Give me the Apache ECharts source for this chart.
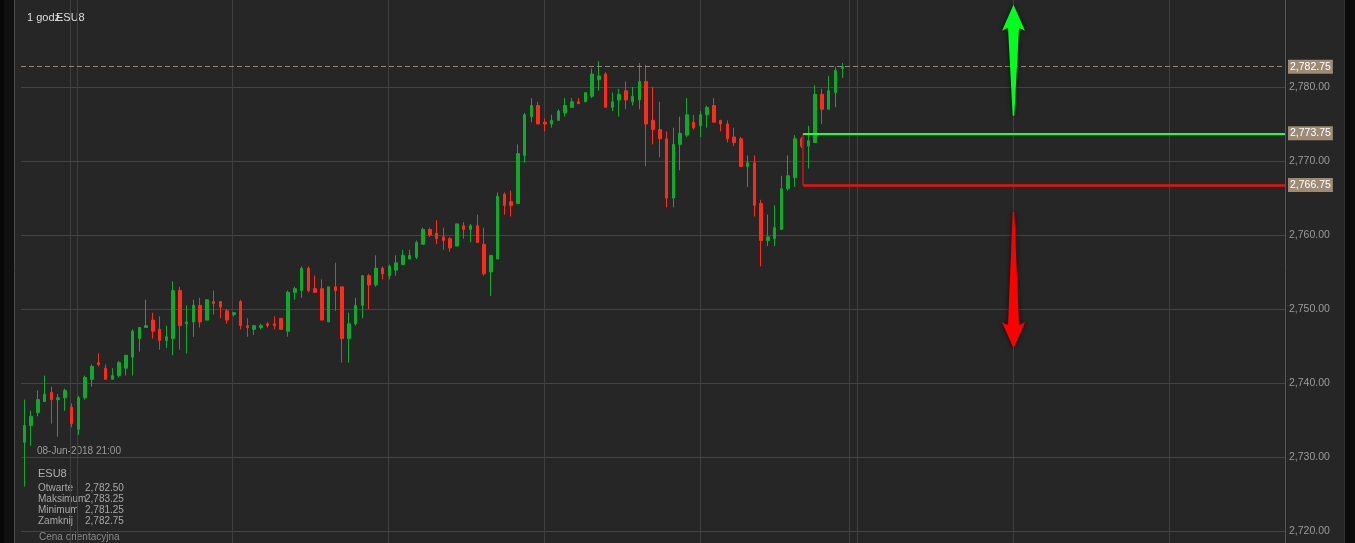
<!DOCTYPE html>
<html>
<head>
<meta charset="utf-8">
<script src="https://cdn.jsdelivr.net/npm/echarts@6/dist/echarts.min.js"></script>
<style>
html,body{margin:0;padding:0;background:#262626;}
#chart{width:1355px;height:543px;}
</style>
</head>
<body>
<div id="chart"></div>
<script>
// ---- data ----
const symbol = 'ESU8';
const period = '1 godz.';
const lastTime = '08-Jun-2018 21:00';
// [open, close, low, high] hourly candles
const ohlc = [
[2732.0,2734.25,2726.0,2737.75],[2734.25,2735.5,2731.5,2736.25],[2736.0,2737.75,2735.5,2739.0],
[2737.5,2738.5,2737.5,2741.0],[2738.75,2737.75,2734.5,2739.5],[2737.75,2738.0,2732.75,2738.5],
[2738.0,2739.0,2736.25,2739.25],[2736.75,2734.5,2734.0,2737.25],[2733.75,2738.0,2733.0,2738.25],
[2738.0,2740.75,2737.75,2741.0],[2740.5,2742.25,2739.5,2742.5],[2742.75,2742.5,2742.25,2744.0],
[2742.0,2740.5,2740.5,2742.5],[2740.5,2741.0,2740.5,2742.0],[2741.0,2742.75,2740.75,2743.0],
[2742.0,2743.75,2741.0,2743.75],[2743.5,2747.0,2741.0,2747.25],[2746.0,2747.5,2744.25,2747.5],
[2747.5,2747.75,2747.5,2751.25],[2748.5,2747.0,2746.0,2749.5],[2747.25,2745.75,2744.5,2749.0],
[2745.75,2746.25,2744.75,2747.75],[2746.0,2752.5,2743.75,2753.75],[2752.5,2747.75,2744.5,2753.0],
[2748.0,2748.25,2744.0,2750.5],[2748.25,2750.5,2746.25,2751.25],[2750.5,2748.25,2747.5,2751.5],
[2748.5,2751.25,2748.5,2751.25],[2751.0,2750.75,2749.25,2752.5],[2751.0,2750.25,2748.75,2751.0],
[2749.75,2748.5,2748.0,2750.0],[2749.25,2749.5,2749.0,2749.5],[2751.0,2747.75,2747.25,2751.25],
[2747.75,2747.5,2746.25,2748.75],[2747.25,2747.75,2746.5,2747.75],[2747.5,2747.75,2747.25,2748.0],
[2748.0,2747.75,2747.5,2748.25],[2748.0,2747.75,2747.25,2749.0],[2748.75,2747.25,2747.25,2748.75],
[2747.0,2752.25,2746.25,2752.5],[2752.25,2752.75,2751.25,2753.0],[2752.5,2755.5,2751.5,2755.75],
[2755.5,2752.5,2752.25,2755.75],[2752.75,2752.25,2752.25,2754.5],[2752.75,2748.5,2748.5,2754.0],
[2748.25,2753.0,2748.25,2753.0],[2753.0,2752.5,2749.75,2756.25],[2753.0,2746.0,2742.75,2753.0],
[2746.0,2748.0,2742.75,2749.5],[2748.0,2750.5,2747.75,2751.5],[2750.5,2754.5,2748.75,2754.5],
[2754.5,2753.25,2750.0,2754.75],[2753.25,2755.5,2753.0,2757.25],[2755.5,2754.75,2754.0,2755.75],
[2754.5,2755.75,2754.0,2756.0],[2755.25,2756.25,2754.5,2757.25],[2756.0,2757.25,2756.0,2758.0],
[2756.75,2757.25,2756.75,2758.0],[2757.0,2759.0,2756.75,2759.25],[2758.75,2760.75,2758.75,2761.0],
[2760.75,2760.0,2759.75,2761.0],[2760.25,2759.5,2758.75,2762.0],[2759.75,2759.25,2758.0,2761.0],
[2759.5,2758.25,2757.75,2759.75],[2758.5,2761.5,2758.5,2761.5],[2761.25,2760.75,2759.5,2761.75],
[2760.75,2761.25,2759.0,2761.5],[2761.25,2759.0,2759.0,2762.75],[2758.75,2754.75,2754.5,2761.0],
[2755.0,2757.25,2751.75,2757.25],[2756.75,2765.25,2756.75,2765.75],[2765.5,2764.0,2762.75,2765.75],
[2764.5,2764.0,2762.5,2766.0],[2764.25,2771.0,2764.25,2772.25],[2770.75,2776.25,2769.75,2776.5],
[2776.0,2777.5,2775.25,2778.5],[2777.5,2775.0,2775.0,2778.0],[2775.25,2775.0,2774.0,2775.75],
[2775.0,2775.5,2774.5,2776.25],[2775.5,2776.75,2775.5,2777.0],[2776.5,2777.5,2776.0,2778.5],
[2777.25,2778.0,2777.25,2778.5],[2778.0,2777.75,2777.75,2778.5],[2778.0,2779.25,2778.0,2779.25],
[2778.75,2781.75,2778.5,2782.5],[2781.0,2781.5,2779.5,2783.5],[2781.75,2777.25,2777.25,2782.0],
[2777.25,2778.0,2776.75,2779.25],[2778.25,2779.0,2776.0,2779.75],[2779.5,2778.25,2777.0,2780.75],
[2778.0,2778.75,2777.5,2780.0],[2778.25,2780.75,2777.0,2783.25],[2780.75,2775.0,2769.25,2783.0],
[2775.5,2774.25,2772.25,2780.0],[2774.25,2773.0,2770.5,2778.0],[2773.0,2765.0,2763.75,2774.0],
[2765.0,2772.25,2763.75,2774.5],[2772.25,2773.75,2768.75,2776.0],[2773.5,2776.25,2773.25,2778.5],
[2775.25,2774.5,2774.25,2776.25],[2774.75,2776.25,2773.25,2776.75],[2776.25,2777.25,2774.5,2777.5],
[2777.5,2775.25,2775.25,2778.5],[2775.5,2775.0,2774.0,2775.5],[2775.0,2773.0,2772.5,2775.5],
[2773.25,2772.5,2772.0,2774.5],[2773.0,2769.25,2769.25,2773.25],[2769.25,2769.75,2766.5,2770.75],
[2769.75,2764.0,2762.5,2770.75],[2764.25,2759.25,2755.75,2764.75],[2759.25,2759.75,2758.5,2762.75],
[2759.5,2761.0,2758.5,2764.0],[2760.75,2766.25,2760.75,2768.0],[2766.25,2768.0,2766.0,2770.75],
[2767.75,2773.0,2766.5,2773.5],[2773.0,2772.0,2771.75,2773.25],[2772.0,2772.75,2769.0,2774.75],
[2772.5,2779.0,2772.5,2780.25],[2779.0,2777.0,2775.0,2779.75],[2777.0,2779.5,2777.0,2781.5],
[2779.25,2782.25,2777.25,2782.75],[2782.5,2782.75,2781.25,2783.25]
];
const emptySlots = 65;              // empty future slots to the right
const priceTicks = [2720, 2730, 2740, 2750, 2760, 2770, 2780, 2790];
const lastPrice = 2782.75;
const levelUp = 2773.75;
const levelDown = 2766.75;
const levelStart = 115.7;           // slot where the level lines start
const timeGrid = [7.25, 8.29, 31.26, 54.34, 77.38, 100.46, 122.5, 123.69, 146.77, 169.85];
const arrowUp = [146.77, 2776.1, 2791.1];    // [slot, tail, tip]
const arrowDown = [146.77, 2763.1, 2744.7];
const infoRows = [['Otwarte','2,782.50'],['Maksimum','2,783.25'],['Minimum','2,781.25'],['Zamknij','2,782.75']];

// ---- chart ----
const slotCount = ohlc.length + emptySlots;
const categories = Array.from({length: slotCount}, (_, i) => String(i));
const fmt = v => Number(v).toFixed(2).replace(/\B(?=(\d{3})+(?!\d))/g, ',');
const FONT = '"Liberation Sans", Arial, sans-serif';
const GREEN = '#0faa2c', RED = '#ff2a1a';

const chart = echarts.init(document.getElementById('chart'), null, {renderer: 'canvas'});

function arrowItem(params, api) {
  const x = api.value(0);
  const p1 = api.coord([x, api.value(1)]);
  const p2 = api.coord([x, api.value(2)]);
  const up = p2[1] < p1[1];
  const dir = up ? -1 : 1;
  const cx = Math.round(p1[0]) + 0.5;
  const head = 26, hw = 11.5, sw = 5.5;
  const pts = [
    [cx, p2[1]],
    [cx + hw, p2[1] - dir * head],
    [cx + sw, p2[1] - dir * (head - 3)],
    [cx + 0.8, p1[1]],
    [cx - 0.8, p1[1]],
    [cx - sw, p2[1] - dir * (head - 3)],
    [cx - hw, p2[1] - dir * head]
  ];
  return {
    type: 'polygon',
    shape: {points: pts},
    style: {fill: up ? '#00ff1e' : '#ff0000', shadowBlur: 5, shadowColor: 'rgba(0,0,0,0.7)'}
  };
}

function vLine(color) {
  return (params, api) => {
    const x = Math.round(api.coord([api.value(0), api.value(1)])[0]) + 0.5;
    return {type: 'line', shape: {x1: x, y1: 0, x2: x, y2: api.getHeight()},
            style: {stroke: color, lineWidth: 1}};
  };
}

const levelLabel = v => ({
  show: true, position: 'end', distance: 3,
  formatter: fmt(v),
  color: '#ffffff', backgroundColor: '#9d8b75',
  padding: [2, 2, 1, 2], fontSize: 10.5, fontFamily: FONT
});

const option = {
  backgroundColor: '#262626',
  animation: false,
  grid: {left: 21, right: 70, top: 13, bottom: 12, containLabel: false},
  xAxis: [
    {type: 'category', data: categories, boundaryGap: true, show: false},
    {type: 'value', min: 0, max: slotCount, show: false, gridIndex: 0}
  ],
  yAxis: {
    type: 'value', position: 'right',
    min: priceTicks[0], max: priceTicks[priceTicks.length - 1], interval: 10,
    axisLine: {show: false, onZero: false},
    axisTick: {show: false},
    axisLabel: {
      color: '#9a9a9a', fontSize: 10.5, fontFamily: FONT, margin: 4,
      showMaxLabel: false, formatter: v => fmt(v)
    },
    splitLine: {show: true, showMaxLine: false, lineStyle: {color: '#444444', width: 1}}
  },
  series: [
    {
      type: 'custom', name: 'timeGrid', xAxisIndex: 1, silent: true, clip: false, z: 1,
      encode: {x: 0, y: 1},
      data: timeGrid.map(v => [v, priceTicks[0]]),
      renderItem: vLine('#404040')
    },
    {
      type: 'custom', name: 'priceAxisLine', xAxisIndex: 1, silent: true, clip: false, z: 1,
      encode: {x: 0, y: 1},
      data: [[slotCount, priceTicks[0]]],
      renderItem: vLine('#555555')
    },
    {
      type: 'candlestick', name: symbol, data: ohlc, barWidth: 3, z: 3,
      itemStyle: {color: GREEN, color0: RED, borderColor: GREEN, borderColor0: RED, borderWidth: 1},
      silent: true
    },
    {
      type: 'line', name: 'levels', xAxisIndex: 1, data: [], silent: true, z: 4,
      markLine: {
        silent: true, symbol: 'none', animation: false,
        data: [
          [{coord: [levelStart, levelUp], lineStyle: {color: '#a01818', width: 2, type: 'solid'}, label: {show: false}},
           {coord: [levelStart, levelDown]}],
          [{coord: [levelStart, levelUp], lineStyle: {color: '#1eff3c', width: 2, type: 'solid'}, label: levelLabel(levelUp)},
           {coord: [slotCount, levelUp]}],
          [{coord: [levelStart, levelDown], lineStyle: {color: '#f01010', width: 2.5, type: 'solid'}, label: levelLabel(levelDown)},
           {coord: [slotCount, levelDown]}],
          {yAxis: lastPrice, lineStyle: {color: '#948775', width: 1, type: [5, 3]}, label: levelLabel(lastPrice)}
        ]
      }
    },
    {
      type: 'custom', name: 'arrows', xAxisIndex: 1, silent: true, clip: false, z: 5,
      encode: {x: 0, y: [1, 2]},
      data: [arrowUp, arrowDown],
      renderItem: arrowItem
    }
  ],
  graphic: [
    {type: 'rect', left: 0, top: 0, shape: {width: 14, height: 543}, style: {fill: '#101010'}, silent: true},
    {type: 'rect', left: 0, top: 0, shape: {width: 4, height: 543}, style: {fill: '#080808'}, silent: true},
    {type: 'line', shape: {x1: 14.5, y1: 0, x2: 14.5, y2: 543}, style: {stroke: '#4a4a4a', lineWidth: 1}, silent: true},
    {type: 'rect', left: 1345, top: 0, shape: {width: 10, height: 543}, style: {fill: '#0c0c0c'}, silent: true},
    {type: 'line', shape: {x1: 1344.5, y1: 0, x2: 1344.5, y2: 543}, style: {stroke: '#333333', lineWidth: 1}, silent: true},
    {type: 'text', x: 27, y: 18, style: {text: period, fill: '#dddddd', font: '11px ' + FONT, textVerticalAlign: 'middle'}},
    {type: 'text', x: 56, y: 18, style: {text: symbol, fill: '#dddddd', font: '11px ' + FONT, textVerticalAlign: 'middle'}},
    {type: 'text', x: 37, y: 451, style: {text: lastTime, fill: '#9a9a9a', font: '10px ' + FONT, textVerticalAlign: 'middle'}},
    {type: 'text', x: 38, y: 474, style: {text: symbol, fill: '#b0b0b0', font: '11px ' + FONT, textVerticalAlign: 'middle'}},
    ...infoRows.flatMap((r, i) => [
      {type: 'text', x: 38, y: 488 + i * 11, style: {text: r[0], fill: '#a8a8a8', font: '10px ' + FONT, textVerticalAlign: 'middle'}},
      {type: 'text', x: 85, y: 488 + i * 11, style: {text: r[1], fill: '#a8a8a8', font: '10px ' + FONT, textVerticalAlign: 'middle'}}
    ]),
    {type: 'text', x: 39, y: 537, style: {text: 'Cena orientacyjna', fill: '#8a8a8a', font: '10px ' + FONT, textVerticalAlign: 'middle'}}
  ]
};
chart.setOption(option);
</script>
</body>
</html>
